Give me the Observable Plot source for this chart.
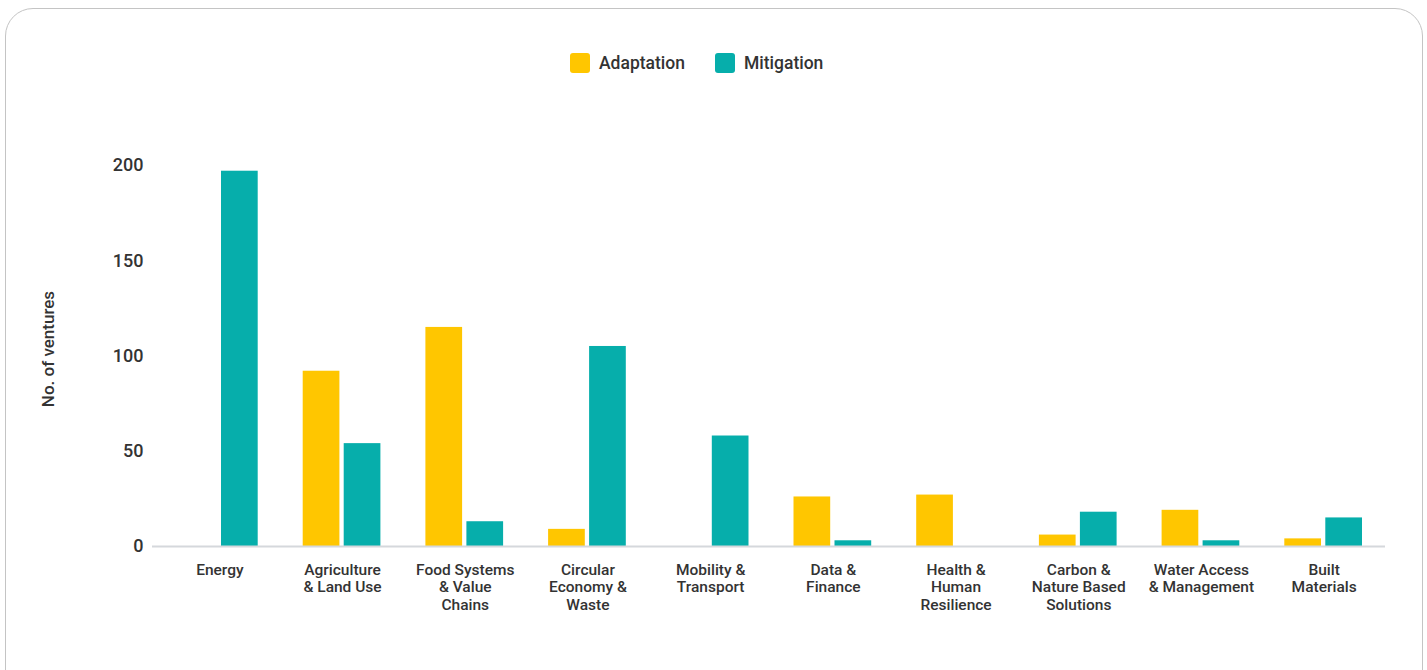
<!DOCTYPE html>
<html>
<head>
<meta charset="utf-8">
<script src="https://cdn.jsdelivr.net/npm/d3@7"></script>
<script src="https://cdn.jsdelivr.net/npm/@observablehq/plot@0.6"></script>
<style>
  html, body { margin: 0; padding: 0; background: #fff; width: 1427px; height: 670px; overflow: hidden; }
  body { position: relative; font-family: Roboto, "Liberation Sans", sans-serif; color: #333; }
  #frame { position: absolute; left: 5px; top: 8px; width: 1418px; height: 700px; border: 1px solid #c4c4c4; border-radius: 28px; box-sizing: border-box; }
  #legend { position: absolute; top: 53px; left: 570px; display: flex; gap: 30px; font-size: 17.5px; font-weight: 500; color: #333; }
  .item { display: flex; align-items: center; gap: 9px; }
  .sw { width: 20px; height: 20px; border-radius: 3px; display: inline-block; }
  #ylabel { position: absolute; left: 48px; top: 349px; transform: translate(-50%, -50%) rotate(-90deg); white-space: nowrap; font-size: 17px; font-weight: 500; color: #333; }
  #chart { position: absolute; left: 0; top: 100px; }
</style>
</head>
<body>
<div id="frame"></div>
<div id="legend"></div>
<div id="ylabel">No. of ventures</div>
<div id="chart"></div>
<script>
const categories = ["Energy","Agriculture & Land Use","Food Systems & Value Chains","Circular Economy & Waste","Mobility & Transport","Data & Finance","Health & Human Resilience","Carbon & Nature Based Solutions","Water Access & Management","Built Materials"];
const tickLabels = ["Energy","Agriculture\n& Land Use","Food Systems\n& Value\nChains","Circular\nEconomy &\nWaste","Mobility &\nTransport","Data &\nFinance","Health &\nHuman\nResilience","Carbon &\nNature Based\nSolutions","Water Access\n& Management","Built\nMaterials"];
const adaptation = [0, 92, 115, 9, 0, 26, 27, 6, 19, 4];
const mitigation = [197, 54, 13, 105, 58, 3, 0, 18, 3, 15];
const seriesNames = ["Adaptation", "Mitigation"];
const seriesColors = ["#FFC600", "#06AEAB"];
const yTicks = [0, 50, 100, 150, 200];

const adaptRows = categories.map((c, i) => ({category: c, value: adaptation[i]}));
const mitigRows = categories.map((c, i) => ({category: c, value: mitigation[i]}));
const labelOf = new Map(categories.map((c, i) => [c, tickLabels[i]]));

const legend = document.getElementById("legend");
seriesNames.forEach((n, i) => {
  const it = document.createElement("div");
  it.className = "item";
  it.innerHTML = `<span class="sw" style="background:${seriesColors[i]}"></span><span>${n}</span>`;
  legend.appendChild(it);
});

const chart = Plot.plot({
  width: 1427,
  height: 530,
  marginLeft: 158,
  marginRight: 42,
  marginTop: 65,
  marginBottom: 84,
  style: {fontFamily: "Roboto, 'Liberation Sans', sans-serif", fontSize: "15.5px", color: "#333", background: "transparent"},
  x: {domain: categories, padding: 0, round: false, axis: null},
  y: {domain: [0, 200], axis: null},
  marks: [
    Plot.barY(adaptRows, {x: "category", y: "value", fill: seriesColors[0], insetLeft: 22, insetRight: 64}),
    Plot.barY(mitigRows, {x: "category", y: "value", fill: seriesColors[1], insetLeft: 63, insetRight: 23}),
    Plot.ruleY([0], {stroke: "#d5d8dc", strokeWidth: 2, insetLeft: -6}),
    Plot.axisX({tickSize: 0, tickPadding: 16, tickFormat: d => labelOf.get(d), fontSize: 15.5, fontWeight: 500, lineHeight: 1.13, fill: "#333", label: null}),
    Plot.axisY({ticks: yTicks, tickSize: 0, tickPadding: 15, fontSize: 18, fontWeight: 500, fill: "#333", label: null})
  ]
});
document.getElementById("chart").appendChild(chart);
</script>
</body>
</html>
